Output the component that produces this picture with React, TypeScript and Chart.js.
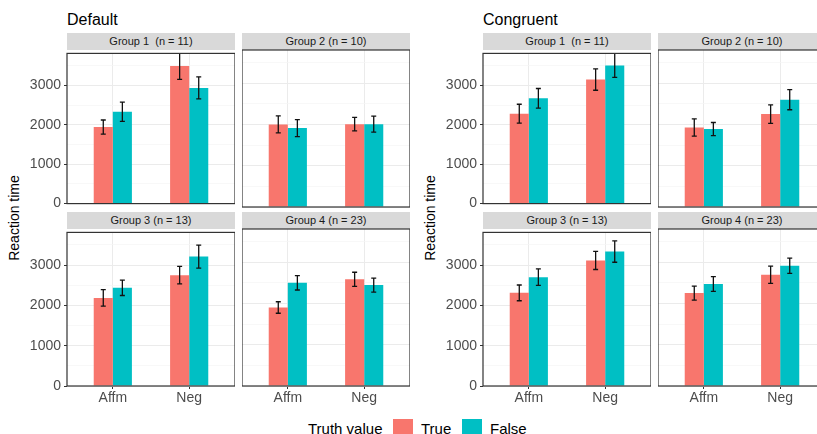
import React, { useEffect, useRef } from 'react';
import { Chart, registerables } from 'chart.js';

Chart.register(...registerables);

// ---- data ----
const categories = ['Affm', 'Neg'];
const seriesNames = ['True', 'False'];
const seriesColors = ['#F8766D', '#00BFC4'];
const panelTitles = ['Default', 'Congruent'];
const groupLabels = ['Group 1  (n = 11)', 'Group 2 (n = 10)', 'Group 3 (n = 13)', 'Group 4 (n = 23)'];
const yTickValues = [0, 500, 1000, 1500, 2000, 2500, 3000, 3500];
const yMax = 3810;
const yTitle = 'Reaction time';
const legendTitle = 'Truth value';

// Default condition: per group [Affm, Neg]
const defaultTrue = [[1940, 3490], [2005, 2010], [2185, 2750], [1905, 2590]];
const defaultTrueSE = [[180, 340], [205, 165], [205, 215], [140, 170]];
const defaultFalse = [[2330, 2935], [1915, 2010], [2435, 3210], [2505, 2450]];
const defaultFalseSE = [[245, 280], [205, 195], [190, 285], [175, 170]];

// Congruent condition
const congruentTrue = [[2280, 3145], [1930, 2255], [2310, 3115], [2255, 2700]];
const congruentTrueSE = [[240, 270], [210, 225], [195, 225], [170, 210]];
const congruentFalse = [[2670, 3505], [1890, 2605], [2700, 3335], [2475, 2920]];
const congruentFalseSE = [[250, 305], [160, 245], [205, 265], [180, 185]];

const FONT = '"Liberation Sans", Arial, Helvetica, sans-serif';

type FacetProps = {
  left: number;
  top: number;
  plotW: number;
  plotH: number;
  yAxisW: number;
  xAxisH: number;
  values: number[][];
  errors: number[][];
};

function Facet({ left, top, plotW, plotH, yAxisW, xAxisH, values, errors }: FacetProps) {
  const ref = useRef<HTMLCanvasElement>(null);
  const padT = 8;
  const padB = xAxisH > 0 ? 0 : 8;
  const cw = plotW + yAxisW;
  const ch = padT + plotH + (xAxisH > 0 ? xAxisH : padB);

  useEffect(() => {
    if (!ref.current) return;
    const showY = yAxisW > 0;
    const showX = xAxisH > 0;
    const errPlugin = {
      id: 'errbarsAndBorder',
      afterDatasetsDraw(chart: any) {
        const ctx = chart.ctx;
        const a = chart.chartArea;
        const ys = chart.scales.y;
        ctx.save();
        ctx.beginPath();
        ctx.rect(a.left, a.top, a.right - a.left, a.bottom - a.top);
        ctx.clip();
        ctx.strokeStyle = '#111';
        ctx.lineWidth = 1.3;
        chart.data.datasets.forEach((ds: any, i: number) => {
          const meta = chart.getDatasetMeta(i);
          meta.data.forEach((el: any, j: number) => {
            const v = ds.data[j].y;
            const e = errors[i][j];
            const x = el.x;
            const y1 = ys.getPixelForValue(v + e);
            const y2 = ys.getPixelForValue(v - e);
            ctx.beginPath();
            ctx.moveTo(x, y1);
            ctx.lineTo(x, y2);
            ctx.moveTo(x - 2.5, y1);
            ctx.lineTo(x + 2.5, y1);
            ctx.moveTo(x - 2.5, y2);
            ctx.lineTo(x + 2.5, y2);
            ctx.stroke();
          });
        });
        ctx.restore();
      },
      afterDraw(chart: any) {
        const ctx = chart.ctx;
        const a = chart.chartArea;
        ctx.save();
        ctx.strokeStyle = '#333333';
        ctx.lineWidth = 1.2;
        ctx.strokeRect(a.left, a.top, a.right - a.left, a.bottom - a.top);
        ctx.restore();
      },
    };

    const chart = new Chart(ref.current, {
      type: 'bar',
      data: {
        datasets: seriesNames.map((name, i) => ({
          label: name,
          data: categories.map((_, j) => ({ x: j + 1, y: values[i][j] })),
          backgroundColor: seriesColors[i],
          borderWidth: 0,
          categoryPercentage: 0.5,
          barPercentage: 1,
        })),
      },
      options: {
        animation: false,
        responsive: false,
        maintainAspectRatio: false,
        devicePixelRatio: 1,
        layout: { padding: { top: padT, bottom: padB, left: 0, right: 0 } },
        plugins: { legend: { display: false }, tooltip: { enabled: false }, title: { display: false } },
        scales: {
          x: {
            type: 'linear',
            min: 0.4,
            max: 2.6,
            offset: false,
            afterBuildTicks: (s: any) => {
              s.ticks = categories.map((_, j) => ({ value: j + 1 }));
            },
            afterFit: (s: any) => {
              s.height = xAxisH;
            },
            grid: { offset: false, color: '#EBEBEB', lineWidth: 1, drawTicks: showX, tickLength: 3, tickColor: '#333333' },
            border: { display: false },
            ticks: {
              display: showX,
              padding: 1,
              color: '#4D4D4D',
              font: { family: FONT, size: 14 },
              maxRotation: 0,
              autoSkip: false,
              callback: (v: any) => categories[Math.round(Number(v)) - 1] ?? '',
            },
          },
          y: {
            type: 'linear',
            min: 0,
            max: yMax,
            afterBuildTicks: (s: any) => {
              s.ticks = yTickValues.map((v) => ({ value: v }));
            },
            afterFit: (s: any) => {
              s.width = yAxisW;
            },
            grid: {
              color: (c: any) => (c.tick && c.tick.value % 1000 === 0 ? '#EBEBEB' : '#F5F5F5'),
              lineWidth: (c: any) => (c.tick && c.tick.value % 1000 === 0 ? 1 : 0.7),
              drawTicks: showY,
              tickLength: 3,
              tickColor: (c: any) => (c.tick && c.tick.value % 1000 === 0 ? '#333333' : 'rgba(0,0,0,0)'),
            },
            border: { display: false },
            ticks: {
              display: showY,
              padding: 3,
              color: '#4D4D4D',
              font: { family: FONT, size: 14 },
              autoSkip: false,
              callback: (v: any) => (Number(v) % 1000 === 0 ? String(v) : ''),
            },
          },
        },
      },
      plugins: [errPlugin],
    } as any);
    return () => chart.destroy();
  }, []);

  return (
    <canvas
      ref={ref}
      width={cw}
      height={ch}
      style={{ position: 'absolute', left: left - yAxisW, top: top - padT, width: cw, height: ch }}
    />
  );
}

export default function App() {
  const panelLefts = [67, 483];
  const colGap = 175;
  const plotW = 168;
  const plotH = 157;
  const stripTops = [33, 212];
  const plotTops = [50, 229];
  const stripH = 17;

  const data = [
    { vals: [defaultTrue, defaultFalse], errs: [defaultTrueSE, defaultFalseSE] },
    { vals: [congruentTrue, congruentFalse], errs: [congruentTrueSE, congruentFalseSE] },
  ];

  const items: any[] = [];
  panelTitles.forEach((title, p) => {
    const pl = panelLefts[p];
    items.push(
      <div
        key={'t' + p}
        style={{ position: 'absolute', left: pl, top: 11, fontSize: 16, lineHeight: '18px', color: '#000', fontFamily: FONT }}
      >
        {title}
      </div>
    );
    items.push(
      <div
        key={'yt' + p}
        style={{
          position: 'absolute',
          left: pl - 53,
          top: (plotTops[0] + plotTops[1] + plotH) / 2,
          transform: 'translate(-50%, -50%) rotate(-90deg)',
          whiteSpace: 'nowrap',
          fontSize: 14,
          color: '#000',
          fontFamily: FONT,
        }}
      >
        {yTitle}
      </div>
    );
    groupLabels.forEach((g, gi) => {
      const row = Math.floor(gi / 2);
      const col = gi % 2;
      const left = pl + col * colGap;
      items.push(
        <div
          key={'s' + p + gi}
          style={{
            position: 'absolute',
            left,
            top: stripTops[row],
            width: plotW,
            height: stripH,
            background: '#D9D9D9',
            fontSize: 11,
            lineHeight: stripH + 'px',
            textAlign: 'center',
            whiteSpace: 'pre',
            color: '#1A1A1A',
            fontFamily: FONT,
          }}
        >
          {g}
        </div>
      );
      items.push(
        <Facet
          key={'f' + p + gi}
          left={left}
          top={plotTops[row]}
          plotW={plotW}
          plotH={plotH}
          yAxisW={col === 0 ? 60 : 0}
          xAxisH={row === 1 ? 24 : 0}
          values={[data[p].vals[0][gi], data[p].vals[1][gi]]}
          errors={[data[p].errs[0][gi], data[p].errs[1][gi]]}
        />
      );
    });
  });

  return (
    <div
      style={{
        position: 'fixed',
        left: 0,
        top: 0,
        width: 817,
        height: 434,
        overflow: 'hidden',
        background: '#fff',
        fontFamily: FONT,
      }}
    >
      {items}
      <div style={{ position: 'absolute', left: 308, top: 419, height: 20, lineHeight: '20px', fontSize: 15, color: '#000', whiteSpace: 'nowrap' }}>
        {legendTitle}
      </div>
      {seriesNames.map((s, i) => (
        <React.Fragment key={'l' + i}>
          <div style={{ position: 'absolute', left: 393 + i * 69, top: 419, width: 20, height: 20, background: seriesColors[i] }} />
          <div style={{ position: 'absolute', left: 421 + i * 69, top: 419, height: 20, lineHeight: '20px', fontSize: 15, color: '#000' }}>
            {s}
          </div>
        </React.Fragment>
      ))}
    </div>
  );
}
